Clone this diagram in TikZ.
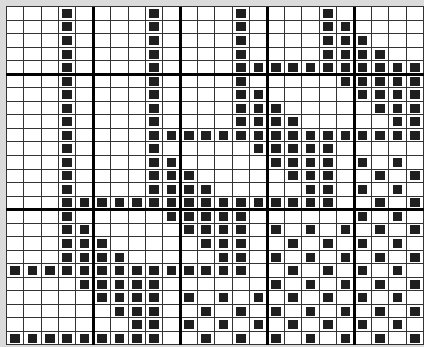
\documentclass[tikz,border=0pt]{standalone}
\begin{document}
\begin{tikzpicture}[x=1pt,y=-1pt]
\def\XO{6.4}\def\W{17.38}\def\YO{6.7}\def\H{13.53}
\tikzset{
  thinrule/.style={line width=1pt,draw=black!80},
  thickrule/.style={line width=3pt,draw=black},
  stitch/.style={fill=black!88,draw=none}
}
\fill[black!14] (0,0) rectangle (424,347);
\useasboundingbox (0,0) rectangle (424,347);
\fill[white] (\XO,\YO) rectangle (424,345);
% thin grid
\foreach \c in {0,...,24}{
  \draw[thinrule] ({\XO+\c*\W},\YO) -- ({\XO+\c*\W},{\YO+25*\H});
}
\foreach \r in {0,...,25}{
  \draw[thinrule] (\XO,{\YO+\r*\H}) -- ({\XO+24*\W},{\YO+\r*\H});
}
% thick grid
\foreach \c in {5,10,15,20}{
  \draw[thickrule] ({\XO+\c*\W},\YO) -- ({\XO+\c*\W},{\YO+25*\H});
}
\foreach \r in {5,15}{
  \draw[thickrule] (\XO,{\YO+\r*\H}) -- ({\XO+24*\W},{\YO+\r*\H});
}
% filled cells
\foreach \r/\cl in {
 0/{3,8,13,18},
 1/{3,8,13,18,19},
 2/{3,8,13,18,19,20},
 3/{3,8,13,18,19,20,21},
 4/{3,8,13,14,15,16,17,18,19,20,21,22,23},
 5/{3,8,13,19,20,21,22,23},
 6/{3,8,13,14,20,21,22,23},
 7/{3,8,13,14,15,21,22,23},
 8/{3,8,13,14,15,16,22,23},
 9/{3,8,9,10,11,12,13,14,15,16,17,18,19,20,21,22,23},
 10/{3,8,14,15,16,17,18},
 11/{3,8,9,15,16,17,18,20,22},
 12/{3,8,9,10,16,17,18,21,23},
 13/{3,8,9,10,11,17,18,20,22},
 14/{3,4,5,6,7,8,9,10,11,12,13,14,15,16,17,18,21,23},
 15/{3,9,10,11,12,13,20,22},
 16/{3,4,10,11,12,13,15,17,19,21,23},
 17/{3,4,5,11,12,13,16,18,20,22},
 18/{3,4,5,6,12,13,15,17,19,21,23},
 19/{0,1,2,3,4,5,6,7,8,9,10,11,12,13,16,18,20,22},
 20/{4,5,6,7,8,15,17,19,21,23},
 21/{5,6,7,8,10,12,14,16,18,20,22},
 22/{6,7,8,11,13,15,17,19,21,23},
 23/{7,8,10,12,14,16,18,20,22},
 24/{0,1,2,3,4,5,6,7,8,11,13,15,17,19,21,23}}{
  \foreach \c in \cl {
    \fill[stitch] ({\XO+(\c+0.5)*\W-4.8},{\YO+(\r+0.5)*\H-4.5}) rectangle ++(9.6,9);
  }
}
\end{tikzpicture}
\end{document}
